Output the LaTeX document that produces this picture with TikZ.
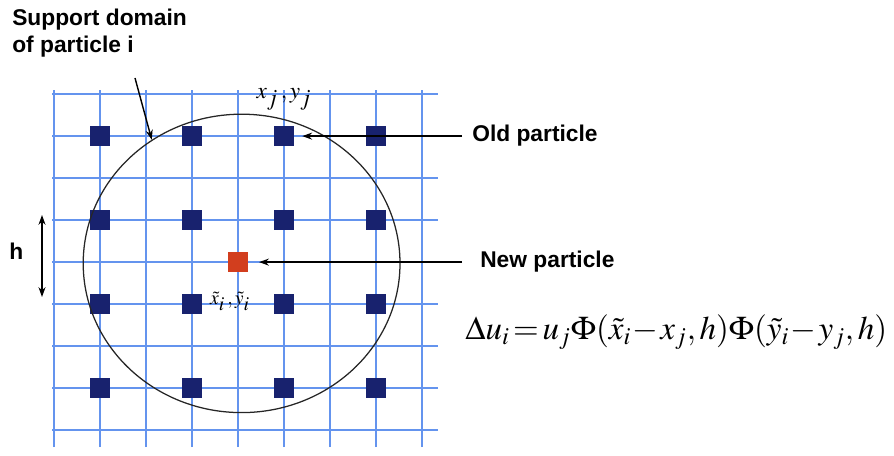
\documentclass[tikz,border=0pt]{standalone}
\usepackage{mathptmx}
\usepackage[no-math]{fontspec}
\newfontfamily\arialfont{Liberation Sans}
\usetikzlibrary{arrows.meta, positioning, shapes.geometric}

\definecolor{gridblue}{RGB}{100,148,238}
\definecolor{navy}{RGB}{24,34,110}
\definecolor{newred}{RGB}{210,62,30}

\begin{document}
\begin{tikzpicture}[
    >={Stealth[length=7pt, width=5pt]},
    gridline/.style={draw=gridblue, line width=1.3pt},
    oldbox/.style={rectangle, fill=navy, minimum size=0.5cm, inner sep=0pt},
    newbox/.style={rectangle, fill=newred, minimum size=0.5cm, inner sep=0pt},
    lbl/.style={font=\arialfont\bfseries\fontsize{16.2}{19.2}\selectfont, inner sep=0pt},
    arrow/.style={->, line width=1pt, draw=black}
]
\useasboundingbox (0,0) rectangle (22.35,11.375);

% =============================================================
% Particle grid
% =============================================================
\foreach \k in {-4,...,4} {
  \draw[gridline] (1.3, 4.825+1.05*\k) -- (10.95, 4.825+1.05*\k);
  \draw[gridline] (5.95+1.15*\k, 0.2) -- (5.95+1.15*\k, 9.125);
}

% Old particles (every second node)
\foreach \c in {1,...,4}
  \foreach \r in {1,...,4}
    \node[oldbox] (old-\c-\r) at (0.2+2.3*\c, 10.075-2.1*\r) {};

% New particle
\node[newbox] (new) at (5.95, 4.825) {};

% Support domain of the new particle
\node[draw=black!85, line width=0.9pt, ellipse, minimum width=7.92cm, minimum height=7.46cm, inner sep=0pt] (domain) at (6.04, 4.79) {};

% =============================================================
% Labels & pointers
% =============================================================
\node[lbl, anchor=north west, align=left] (support) at (0.3, 11.16) {Support domain\\of particle i};
\coordinate (domtail) at (3.375, 9.425);
\draw[arrow] (domtail) -- (domain.126);

\node[lbl, anchor=base west] (oldlbl) at (11.8, 7.825) {Old particle};
\draw[arrow, shorten <=0.25cm, shorten >=0.2cm] (oldlbl.west) -- (oldlbl.west -| old-3-1.east);

\node[lbl, anchor=base west] (newlbl) at (12.0, 4.675) {New particle};
\draw[arrow, shorten <=0.45cm, shorten >=0.27cm] (newlbl.west) -- (newlbl.west -| new.east);

% Particle spacing h
\node[lbl, anchor=base] (hlbl) at (0.41, 4.875) {h};
\coordinate (htop) at (1.05, 6.0);
\coordinate (hbot) at (1.05, 3.95);
\draw[arrow, <->] (htop) -- (hbot);

% Coordinates
\node[font=\fontsize{16.5}{19}\selectfont, inner sep=0pt] (xjyj) at (7.1, 8.9) {$x_{\textstyle j}\,,y_{\textstyle j}$};
\node[font=\fontsize{14}{17}\selectfont, inner sep=0pt] (xiyi) at (5.75, 3.85) {$\tilde{x}_{\textstyle i}\,,\tilde{y}_{\textstyle i}$};

% Update formula
\node[font=\fontsize{23.5}{28}\selectfont, inner sep=0pt, anchor=base west] (update) at (11.625, 2.875) {\medmuskip=1mu \thickmuskip=2mu $\Delta u_i = u_j \Phi(\tilde{x}_i - x_j, h)\Phi(\tilde{y}_i - y_j, h)$};

\end{tikzpicture}
\end{document}
